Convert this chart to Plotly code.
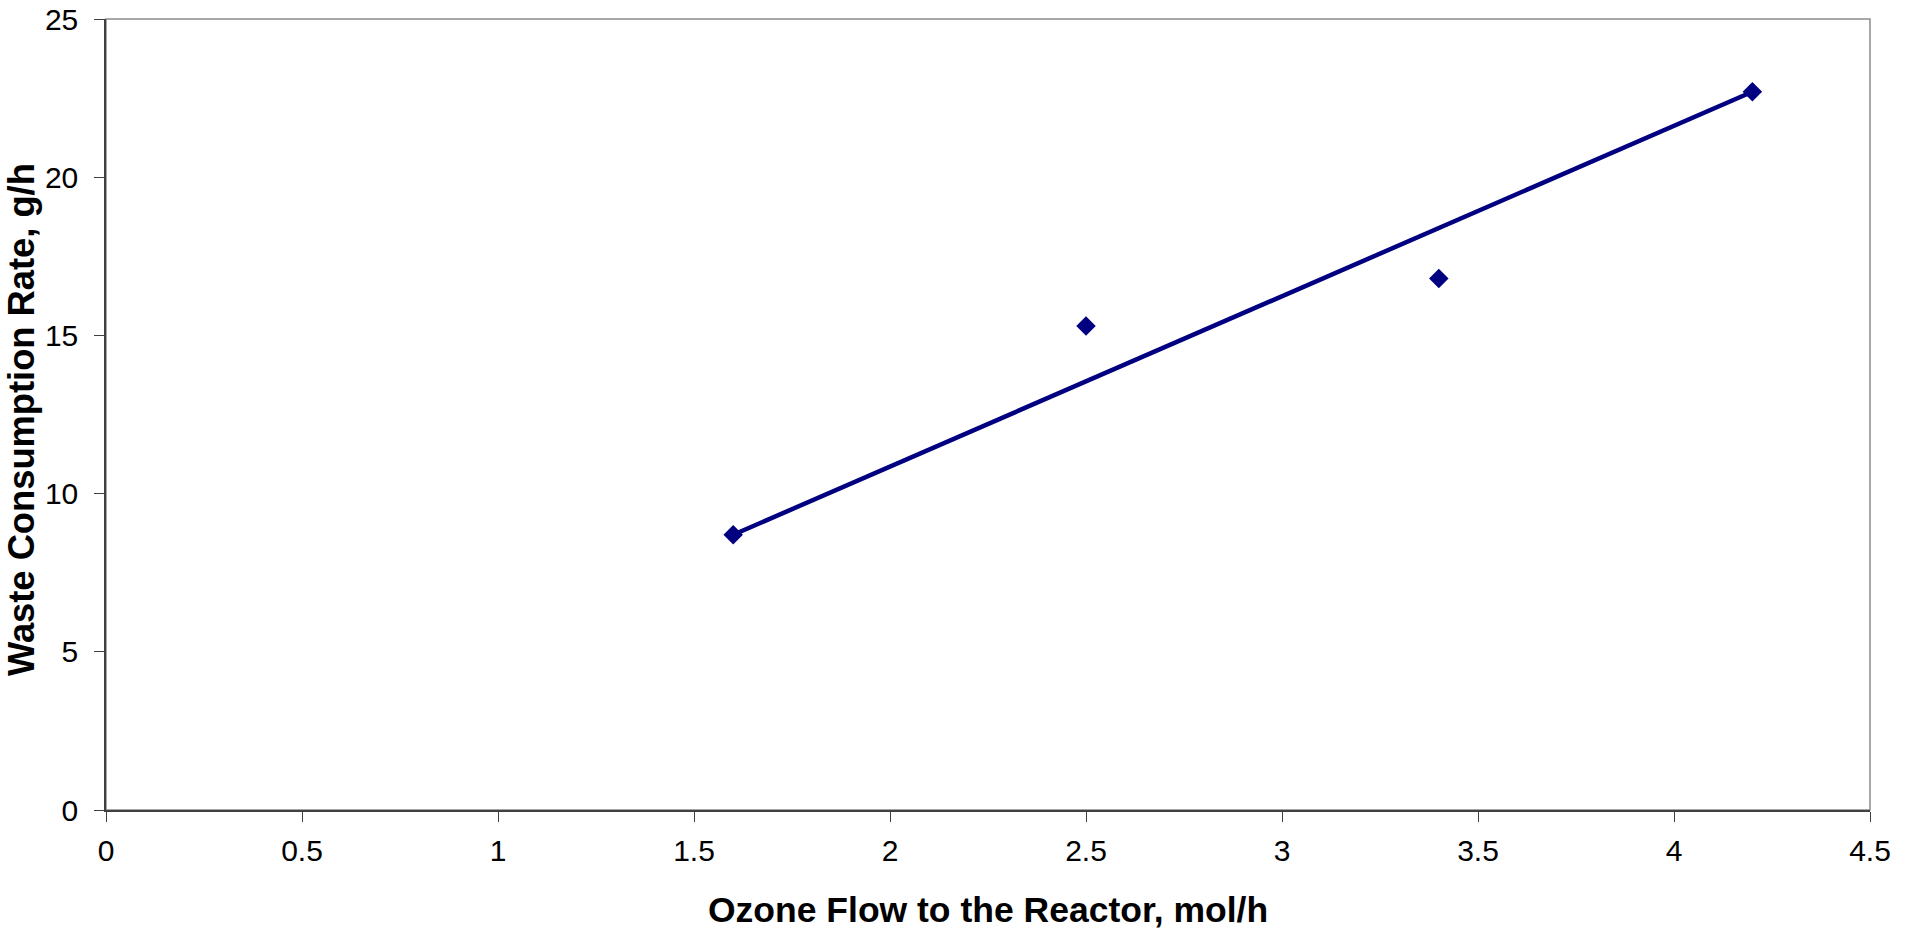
import plotly.graph_objects as go

# Data
ozone_flow = [1.6, 2.5, 3.4, 4.2]
waste_rate = [8.7, 15.3, 16.8, 22.7]
line_x = [1.6, 4.2]
line_y = [8.7, 22.7]
x_ticks = [0, 0.5, 1, 1.5, 2, 2.5, 3, 3.5, 4, 4.5]
x_tick_labels = ["0", "0.5", "1", "1.5", "2", "2.5", "3", "3.5", "4", "4.5"]
y_ticks = [0, 5, 10, 15, 20, 25]
y_tick_labels = ["0", "5", "10", "15", "20", "25"]

NAVY = "#000080"
AXIS = "#404040"
FONT = "Liberation Sans, Arial, sans-serif"

W, H = 1914, 932
PL, PR, PT, PB = 106, 1870, 19, 810  # plot box in pixels
PW, PH = PR - PL, PB - PT

fig = go.Figure()
fig.add_trace(go.Scatter(x=line_x, y=line_y, mode="lines",
                         line=dict(color=NAVY, width=4.5), showlegend=False,
                         hoverinfo="skip"))
fig.add_trace(go.Scatter(x=ozone_flow, y=waste_rate, mode="markers",
                         marker=dict(symbol="diamond", size=15, color=NAVY,
                                     line=dict(width=0)),
                         showlegend=False))

fig.add_shape(type="rect", xref="paper", yref="paper", x0=0, y0=0, x1=1, y1=1,
              line=dict(color="#8c8c8c", width=1.5), layer="below")

fig.update_layout(
    width=W, height=H,
    margin=dict(l=PL, r=W - PR, t=PT, b=H - PB, pad=0),
    paper_bgcolor="white", plot_bgcolor="white",
    font=dict(family=FONT, size=30, color="black"),
    xaxis=dict(range=[0, 4.5], tickvals=x_ticks, ticktext=x_tick_labels,
               showgrid=False, zeroline=False, showline=True, linecolor=AXIS,
               linewidth=1.5, ticks="outside", ticklen=10, tickcolor=AXIS,
               tickwidth=1, ticklabelstandoff=3, automargin=False,
               ticklabeloverflow="allow",
               tickfont=dict(family=FONT, size=30, color="black")),
    yaxis=dict(range=[0, 25], tickvals=y_ticks, ticktext=y_tick_labels,
               showgrid=False, zeroline=False, showline=True, linecolor=AXIS,
               linewidth=1.5, ticks="outside", ticklen=10, tickcolor=AXIS,
               tickwidth=1, ticklabelstandoff=10, automargin=False,
               ticklabeloverflow="allow",
               tickfont=dict(family=FONT, size=30, color="black")),
    annotations=[
        dict(text="<b>Ozone Flow to the Reactor, mol/h</b>", xref="paper", yref="paper",
             x=0.5, y=-(910 - PB) / PH, xanchor="center", yanchor="middle",
             showarrow=False,
             font=dict(family=FONT, size=35.5, color="black")),
        dict(text="<b>Waste Consumption Rate, g/h</b>", xref="paper", yref="paper",
             x=-(PL - 21) / PW, y=(PB - 420) / PH, xanchor="center", yanchor="middle",
             textangle=-90, showarrow=False,
             font=dict(family=FONT, size=36.3, color="black")),
    ],
)

# remove the browser's default 8px page margin so the figure fills the window
fig.write_html("out.html", config={"displayModeBar": False},
               post_script="document.body.style.margin='0';document.body.style.overflow='hidden';")
